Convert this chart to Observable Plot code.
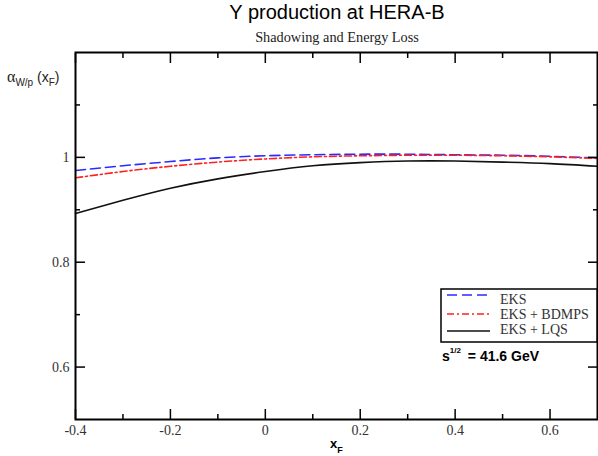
<!DOCTYPE html>
<html>
<head>
<meta charset="utf-8">
<script src="https://cdn.jsdelivr.net/npm/d3@7"></script>
<script src="https://cdn.jsdelivr.net/npm/@observablehq/plot@0.6"></script>
<style>
  html, body { margin: 0; padding: 0; background: #fff; }
  #chart svg { display: block; }
</style>
</head>
<body>
<div id="chart"></div>
<script>
// ---- data ----
const xF       = [-0.4, -0.3, -0.2, -0.1, 0.0, 0.1, 0.2, 0.3, 0.4, 0.5, 0.6, 0.7];
const eks      = [0.975, 0.984, 0.992, 0.999, 1.003, 1.005, 1.006, 1.006, 1.005, 1.004, 1.002, 0.999];
const eksBdmps = [0.961, 0.973, 0.983, 0.991, 0.997, 1.001, 1.003, 1.004, 1.004, 1.003, 1.001, 0.998];
const eksLqs   = [0.893, 0.918, 0.941, 0.959, 0.973, 0.984, 0.990, 0.993, 0.993, 0.991, 0.988, 0.983];

const seriesNames = ["EKS", "EKS + BDMPS", "EKS + LQS"];
const seriesColors = ["#2b2bff", "#ff2020", "#111111"];
const seriesDash = ["10,5", "7,3,2,3", null];

const xMajor = [-0.4, -0.2, 0, 0.2, 0.4, 0.6];
const xMinor = [-0.3, -0.1, 0.1, 0.3, 0.5];
const yMajor = [0.6, 0.8, 1.0];
const yMinor = [0.7, 0.9, 1.1];

const titleText = "Υ production at HERA-B";
const subtitleText = "Shadowing and Energy Loss";
const energyText = "= 41.6 GeV";

// ---- build table ----
const allSeries = [eks, eksBdmps, eksLqs];
const rows = [];
allSeries.forEach((vals, s) => vals.forEach((v, i) => rows.push({series: seriesNames[s], x: xF[i], y: v})));

const fmt = d => String(Math.round(d * 10) / 10);
const serif = "Liberation Serif, Times New Roman, serif";
const sans = "Liberation Sans, Arial, sans-serif";

const tickAxes = [];
for (const anchor of ["bottom", "top"]) {
  tickAxes.push(Plot.axisX(xMajor, {anchor, tickSize: -10, tickFormat: () => "", label: null, strokeWidth: 1.5}));
  tickAxes.push(Plot.axisX(xMinor, {anchor, tickSize: -5, tickFormat: () => "", label: null, strokeWidth: 1.5}));
}
for (const anchor of ["left", "right"]) {
  tickAxes.push(Plot.axisY(yMajor, {anchor, tickSize: -10, tickFormat: () => "", label: null, strokeWidth: 1.5}));
  tickAxes.push(Plot.axisY(yMinor, {anchor, tickSize: -5, tickFormat: () => "", label: null, strokeWidth: 1.5}));
}

const plot = Plot.plot({
  width: 598,
  height: 456,
  marginLeft: 75,
  marginRight: 1,
  marginTop: 52,
  marginBottom: 37,
  style: {background: "#fff", color: "#000"},
  x: {domain: [-0.4, 0.7]},
  y: {domain: [0.5, 1.2]},
  marks: [
    ...seriesNames.map((name, s) => Plot.line(rows.filter(r => r.series === name), {
      x: "x", y: "y", curve: "natural",
      stroke: seriesColors[s], strokeWidth: 1.6,
      strokeDasharray: seriesDash[s] || undefined
    })),
    ...tickAxes,
    Plot.axisX(xMajor, {anchor: "bottom", tickSize: 0, tickPadding: 6, tickFormat: fmt, label: null,
      fontFamily: serif, fontSize: 14, fill: "#333"}),
    Plot.axisY(yMajor, {anchor: "left", tickSize: 0, tickPadding: 6, tickFormat: fmt, label: null,
      fontFamily: serif, fontSize: 14, fill: "#333"}),
    Plot.frame({stroke: "#000", strokeWidth: 2})
  ]
});

document.getElementById("chart").appendChild(plot);

// ---- annotations: title, axis labels, legend ----
const svg = d3.select(plot);
const g = svg.append("g").attr("text-anchor", "start");

g.append("text").attr("x", 337).attr("y", 19).attr("text-anchor", "middle")
  .attr("font-family", sans).attr("font-size", 20).attr("fill", "#000").text(titleText);
g.append("text").attr("x", 337).attr("y", 42).attr("text-anchor", "middle")
  .attr("font-family", serif).attr("font-size", 14.3).attr("fill", "#222").text(subtitleText);

// y-axis label  α_W/p (x_F)
const yl = g.append("text").attr("x", 7).attr("y", 82).attr("text-anchor", "start")
  .attr("font-family", sans).attr("font-size", 14).attr("fill", "#222");
yl.append("tspan").attr("font-family", serif).attr("font-size", 16).text("α");
yl.append("tspan").attr("font-size", 10).attr("dy", 4).text("W/p");
yl.append("tspan").attr("dy", -4).text(" (x");
yl.append("tspan").attr("font-size", 10).attr("dy", 4).text("F");
yl.append("tspan").attr("dy", -4).text(")");

// x-axis label x_F
const xl = g.append("text").attr("x", 330).attr("y", 448).attr("text-anchor", "start")
  .attr("font-family", sans).attr("font-weight", "bold").attr("font-size", 13).attr("fill", "#000");
xl.append("tspan").text("x");
xl.append("tspan").attr("font-size", 9).attr("dy", 5).text("F");

// legend
g.append("rect").attr("x", 441).attr("y", 289).attr("width", 156).attr("height", 53)
  .attr("fill", "#fff").attr("stroke", "#000").attr("stroke-width", 1.5);
const lineY = [295, 314, 331];
const textY = [304, 319, 334];
seriesNames.forEach((name, s) => {
  const ln = g.append("line").attr("x1", 447).attr("x2", 490).attr("y1", lineY[s]).attr("y2", lineY[s])
    .attr("stroke", seriesColors[s]).attr("stroke-width", 1.5);
  if (seriesDash[s]) ln.attr("stroke-dasharray", seriesDash[s]);
  g.append("text").attr("x", 500).attr("y", textY[s]).attr("text-anchor", "start")
    .attr("font-family", serif).attr("font-size", 14).attr("fill", "#333").text(name);
});

// s^1/2 = 41.6 GeV
const st = g.append("text").attr("x", 442).attr("y", 361).attr("text-anchor", "start")
  .attr("font-family", sans).attr("font-weight", "bold").attr("font-size", 14).attr("fill", "#000");
st.append("tspan").text("s");
st.append("tspan").attr("font-size", 8).attr("dy", -8).text("1/2");
st.append("tspan").attr("dy", 8).attr("dx", 3).text(" " + energyText);
</script>
</body>
</html>
